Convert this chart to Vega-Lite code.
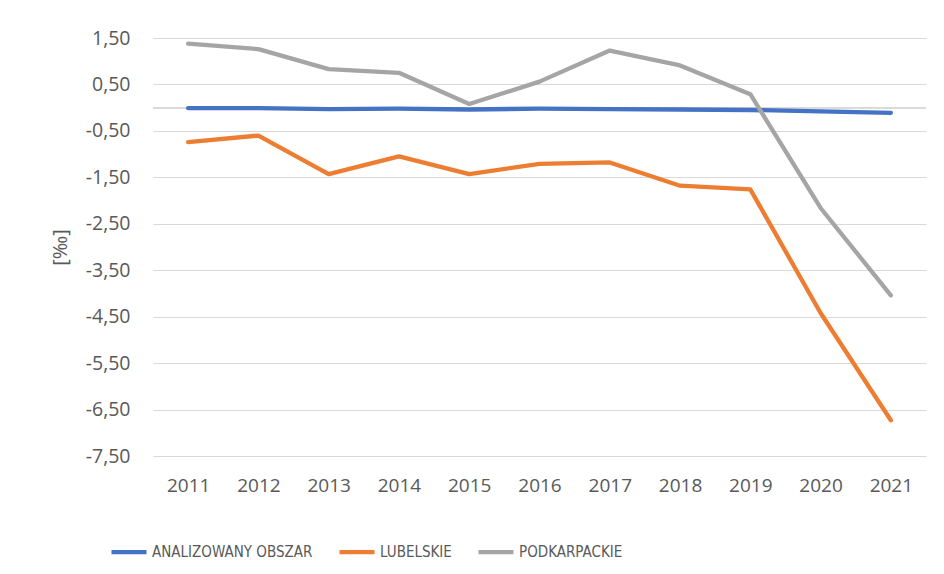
{
  "$schema": "https://vega.github.io/schema/vega-lite/v6.json",
  "autosize": "none",
  "width": 773,
  "height": 418,
  "padding": {"left": 153, "top": 38, "right": 18, "bottom": 118},
  "background": "white",
  "config": {
    "view": {"stroke": null},
    "font": "Open Sans"
  },
  "data": {
    "values": [
      {"year": "2011", "series": "ANALIZOWANY OBSZAR", "value": -0.01},
      {"year": "2012", "series": "ANALIZOWANY OBSZAR", "value": -0.01},
      {"year": "2013", "series": "ANALIZOWANY OBSZAR", "value": -0.03},
      {"year": "2014", "series": "ANALIZOWANY OBSZAR", "value": -0.02},
      {"year": "2015", "series": "ANALIZOWANY OBSZAR", "value": -0.04},
      {"year": "2016", "series": "ANALIZOWANY OBSZAR", "value": -0.02},
      {"year": "2017", "series": "ANALIZOWANY OBSZAR", "value": -0.03},
      {"year": "2018", "series": "ANALIZOWANY OBSZAR", "value": -0.04},
      {"year": "2019", "series": "ANALIZOWANY OBSZAR", "value": -0.05},
      {"year": "2020", "series": "ANALIZOWANY OBSZAR", "value": -0.08},
      {"year": "2021", "series": "ANALIZOWANY OBSZAR", "value": -0.11},
      {"year": "2011", "series": "LUBELSKIE", "value": -0.74},
      {"year": "2012", "series": "LUBELSKIE", "value": -0.60},
      {"year": "2013", "series": "LUBELSKIE", "value": -1.43},
      {"year": "2014", "series": "LUBELSKIE", "value": -1.05},
      {"year": "2015", "series": "LUBELSKIE", "value": -1.43},
      {"year": "2016", "series": "LUBELSKIE", "value": -1.21},
      {"year": "2017", "series": "LUBELSKIE", "value": -1.18},
      {"year": "2018", "series": "LUBELSKIE", "value": -1.68},
      {"year": "2019", "series": "LUBELSKIE", "value": -1.76},
      {"year": "2020", "series": "LUBELSKIE", "value": -4.42},
      {"year": "2021", "series": "LUBELSKIE", "value": -6.73},
      {"year": "2011", "series": "PODKARPACKIE", "value": 1.38},
      {"year": "2012", "series": "PODKARPACKIE", "value": 1.26},
      {"year": "2013", "series": "PODKARPACKIE", "value": 0.83},
      {"year": "2014", "series": "PODKARPACKIE", "value": 0.75},
      {"year": "2015", "series": "PODKARPACKIE", "value": 0.08},
      {"year": "2016", "series": "PODKARPACKIE", "value": 0.56},
      {"year": "2017", "series": "PODKARPACKIE", "value": 1.23},
      {"year": "2018", "series": "PODKARPACKIE", "value": 0.91},
      {"year": "2019", "series": "PODKARPACKIE", "value": 0.29},
      {"year": "2020", "series": "PODKARPACKIE", "value": -2.16},
      {"year": "2021", "series": "PODKARPACKIE", "value": -4.04}
    ]
  },
  "layer": [
    {
      "mark": {"type": "rule", "color": "#D9D9D9", "strokeWidth": 1.2},
      "encoding": {
        "y": {
          "datum": 0,
          "type": "quantitative",
          "scale": {"domain": [-7.5, 1.5], "nice": false, "zero": false},
          "axis": {
            "title": "[‰]",
            "titleFont": "Open Sans",
            "titleFontSize": 20,
            "titleFontWeight": "normal",
            "titleColor": "#595959",
            "titlePadding": 15,
            "values": [1.5, 0.5, -0.5, -1.5, -2.5, -3.5, -4.5, -5.5, -6.5, -7.5],
            "labelExpr": "replace(replace(format(datum.value, '.2f'), '.', ','), '\u2212', '-')",
            "domain": false,
            "ticks": false,
            "grid": true,
            "gridColor": "#D9D9D9",
            "gridWidth": 1.2,
            "gridOpacity": 1,
            "labelFont": "Open Sans",
            "labelFontSize": 19.5,
            "labelColor": "#595959",
            "labelPadding": 23
          }
        }
      }
    },
    {
      "mark": {"type": "line", "strokeWidth": 4.3, "strokeCap": "round", "strokeJoin": "round"},
      "encoding": {
        "x": {
          "field": "year",
          "type": "ordinal",
          "scale": {"type": "point", "padding": 0.5},
          "axis": {
            "title": null,
            "labelAngle": 0,
            "domain": false,
            "ticks": false,
            "grid": false,
            "labelFont": "Open Sans",
            "labelFontSize": 19,
            "labelColor": "#595959",
            "labelPadding": 20
          }
        },
        "y": {
          "field": "value",
          "type": "quantitative",
          "scale": {"domain": [-7.5, 1.5], "nice": false, "zero": false},
          "axis": {
            "title": "[‰]",
            "titleFont": "Open Sans",
            "titleFontSize": 20,
            "titleFontWeight": "normal",
            "titleColor": "#595959",
            "titlePadding": 15,
            "values": [1.5, 0.5, -0.5, -1.5, -2.5, -3.5, -4.5, -5.5, -6.5, -7.5],
            "labelExpr": "replace(replace(format(datum.value, '.2f'), '.', ','), '\u2212', '-')",
            "domain": false,
            "ticks": false,
            "grid": true,
            "gridColor": "#D9D9D9",
            "gridWidth": 1.2,
            "gridOpacity": 1,
            "labelFont": "Open Sans",
            "labelFontSize": 19.5,
            "labelColor": "#595959",
            "labelPadding": 23
          }
        },
        "color": {
          "field": "series",
          "type": "nominal",
          "scale": {
            "domain": ["ANALIZOWANY OBSZAR", "LUBELSKIE", "PODKARPACKIE"],
            "range": ["#4472C4", "#ED7D31", "#A5A5A5"]
          },
          "legend": {
            "title": null,
            "orient": "none",
            "direction": "horizontal",
            "legendX": -44,
            "legendY": 494,
            "symbolType": "stroke",
            "symbolSize": 1225,
            "symbolStrokeWidth": 4.3,
            "labelFont": "DejaVu Sans Condensed, Roboto",
            "labelFontSize": 15,
            "labelLimit": 0,
            "labelColor": "#595959",
            "labelOffset": 3,
            "columnPadding": 17
          }
        }
      }
    }
  ]
}
